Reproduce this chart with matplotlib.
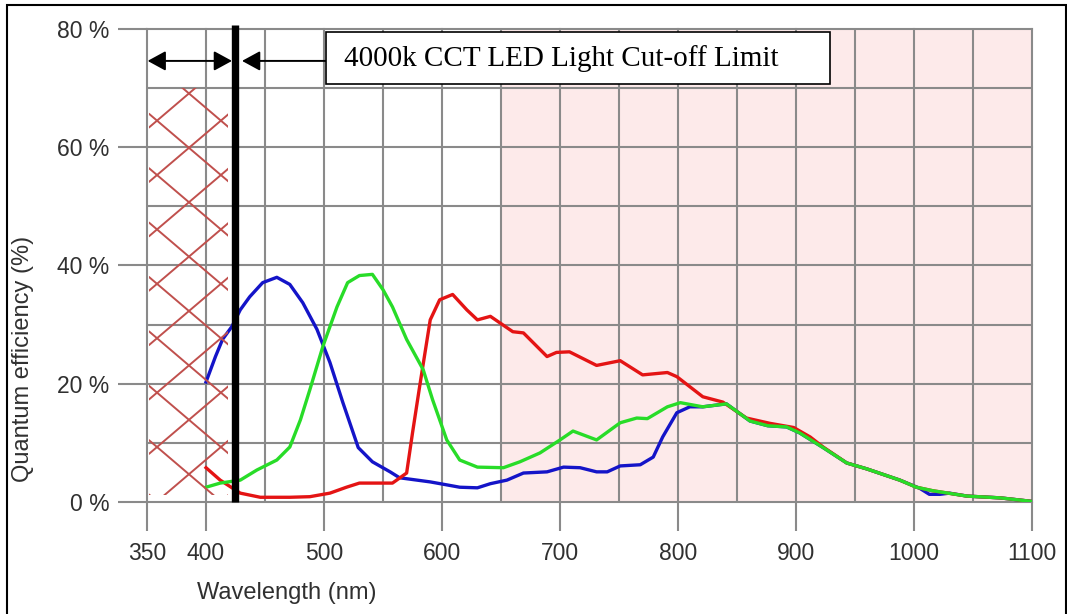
import numpy as np
import matplotlib.pyplot as plt
from matplotlib.patches import Rectangle

# QE curves
blue_nm = [400, 408, 414, 422, 429, 437, 448, 460, 471, 482,
           494, 505, 516, 529, 541, 556, 564, 590, 604, 615,
           630, 641, 655, 669, 689, 703, 717, 731, 740, 751,
           768, 779, 787, 799, 810, 821, 841, 861, 876, 892,
           903, 923, 943, 960, 988, 1005, 1013, 1022, 1030, 1045,
           1073, 1100]
blue_qe = [20.3, 24.6, 27.5, 29.7, 32.5, 34.7, 37.1, 38.0, 36.8, 33.7,
           29.2, 23.6, 16.8, 9.2, 6.8, 5.1, 4.1, 3.4, 2.9, 2.5,
           2.4, 3.1, 3.7, 4.9, 5.1, 5.9, 5.8, 5.1, 5.1, 6.1,
           6.3, 7.6, 11.0, 15.1, 16.1, 16.1, 16.6, 13.7, 12.9, 12.7,
           11.7, 9.2, 6.6, 5.6, 3.7, 2.3, 1.3, 1.3, 1.5, 1.0,
           0.7, 0.1]

red_nm = [400, 412, 429, 446, 471, 488, 505, 519, 530, 545,
          558, 570, 575, 581, 590, 598, 609, 621, 630, 641,
          660, 669, 689, 697, 708, 731, 751, 770, 791, 799,
          821, 838, 858, 878, 898, 912, 923, 943, 960, 988,
          1002, 1016, 1045, 1073, 1100]
red_qe = [5.8, 3.7, 1.5, 0.8, 0.8, 0.9, 1.5, 2.5, 3.2, 3.2,
          3.2, 4.9, 11.7, 19.5, 30.8, 34.2, 35.1, 32.5, 30.8, 31.4,
          28.8, 28.6, 24.6, 25.3, 25.4, 23.1, 23.9, 21.5, 21.9, 21.2,
          17.8, 16.9, 14.2, 13.3, 12.6, 11.0, 9.3, 6.6, 5.6, 3.7,
          2.5, 1.9, 1.0, 0.7, 0.1]

green_nm = [400, 412, 429, 443, 460, 471, 480, 488, 499, 511,
            520, 530, 541, 550, 558, 570, 584, 592, 604, 615,
            630, 652, 666, 683, 700, 711, 731, 751, 765, 774,
            791, 802, 821, 841, 861, 876, 892, 903, 923, 943,
            960, 988, 1002, 1016, 1045, 1073, 1100]
green_qe = [2.5, 3.2, 3.7, 5.4, 7.1, 9.3, 13.9, 19.0, 26.3, 33.0,
            37.1, 38.3, 38.5, 35.9, 33.0, 27.5, 22.4, 17.3, 10.5, 7.1,
            5.9, 5.8, 6.8, 8.3, 10.5, 12.0, 10.5, 13.4, 14.2, 14.1,
            16.1, 16.8, 16.1, 16.6, 13.7, 12.9, 12.7, 11.7, 9.2, 6.6,
            5.6, 3.7, 2.5, 1.9, 1.0, 0.7, 0.1]

x_ticks = [350, 400, 500, 600, 700, 800, 900, 1000, 1100]
y_ticks = [0, 20, 40, 60, 80]
y_labels = ['0 %', '20 %', '40 %', '60 %', '80 %']

ir_band = (650, 1100)      # pink shaded region
cutoff_nm = 424.5          # LED cut-off line
hatch_nm = (352, 419)      # crossed-out region
hatch_qe = (1.2, 70)
arrow_qe = 74.6
note = '4000k CCT LED Light Cut-off Limit'

grid_c = '#8a8a8a'
txt_c = '#303030'

fig = plt.figure(figsize=(10.67, 6.14), dpi=100)
ax = fig.add_axes([0.1378, 0.1824, 0.8294, 0.7704])

ax.axvspan(ir_band[0], ir_band[1], color='#fdeaea', zorder=0, lw=0)

ax.set_xlim(350, 1100)
ax.set_ylim(0, 80)
ax.set_xticks(x_ticks)
ax.set_xticks(np.arange(350, 1101, 50), minor=True)
ax.set_yticks(y_ticks)
ax.set_yticklabels(y_labels)
ax.set_yticks(np.arange(0, 81, 10), minor=True)
ax.grid(which='both', color=grid_c, lw=1.5)
ax.set_axisbelow(True)
for gl in ax.get_xgridlines() + ax.get_ygridlines():
    gl.set_clip_on(False)
for s in ax.spines.values():
    s.set_visible(False)
ax.tick_params(which='major', length=21, width=1.5, color=grid_c,
               labelsize=16.5, labelcolor=txt_c)
ax.tick_params(axis='x', which='major', pad=8)
ax.tick_params(axis='y', which='major', pad=6)
ax.tick_params(which='minor', length=0)
for lab in ax.get_xticklabels() + ax.get_yticklabels():
    lab.set_family('Liberation Sans')

ax.plot(blue_nm, blue_qe, color='#1414c8', lw=2.4, zorder=3)
ax.plot(red_nm, red_qe, color='#e41414', lw=2.4, zorder=3)
ax.plot(green_nm, green_qe, color='#28dc28', lw=2.4, zorder=3)

# red crosses over the blocked region
clip = Rectangle((hatch_nm[0], hatch_qe[0]), hatch_nm[1] - hatch_nm[0],
                 hatch_qe[1] - hatch_qe[0], transform=ax.transData,
                 fill=False, lw=0)
ax.add_patch(clip)
xs = np.array(hatch_nm, dtype=float)
slope = 0.17
for c in np.arange(hatch_qe[0], hatch_qe[1] + 12, 9.2):
    for sgn in (-1, 1):
        base = c if sgn < 0 else c - 11.4
        ln, = ax.plot(xs, base + sgn * slope * (xs - xs[0]),
                      color='#c0504d', lw=1.4, zorder=4)
        ln.set_clip_path(clip)

ax.plot([cutoff_nm, cutoff_nm], [0, 80.6], color='black', lw=5.3,
        solid_capstyle='butt', clip_on=False, zorder=6)

ax.annotate('', xy=(350.5, arrow_qe), xytext=(cutoff_nm - 2.5, arrow_qe),
            arrowprops=dict(arrowstyle='<|-|>,head_length=0.55,head_width=0.3',
                            color='black', lw=1.4, shrinkA=0, shrinkB=0,
                            mutation_scale=20), zorder=7)
ax.annotate('', xy=(cutoff_nm + 6, arrow_qe), xytext=(502, arrow_qe),
            arrowprops=dict(arrowstyle='-|>,head_length=0.55,head_width=0.3',
                            color='black', lw=1.4, shrinkA=0, shrinkB=0,
                            mutation_scale=20), zorder=7)

ax.add_patch(Rectangle((502, 70.7), 427, 8.8, facecolor='white',
                       edgecolor='black', lw=1.2, clip_on=False, zorder=8))
ax.text(517, 75.0, note, fontsize=21, family='Liberation Serif',
        va='center', ha='left', zorder=9)

fig.text(0.022, 0.415, 'Quantum efficiency (%)', rotation=90, fontsize=17,
         family='Liberation Sans', color=txt_c, ha='center', va='center')
fig.text(0.269, 0.035, 'Wavelength (nm)', fontsize=17,
         family='Liberation Sans', color=txt_c, ha='center', va='center')

fig.patches.append(Rectangle((0.0066, -0.01), 0.9925, 1.0019,
                             transform=fig.transFigure, fill=False,
                             edgecolor='black', lw=1.5))

plt.savefig('out.png', dpi=100)
